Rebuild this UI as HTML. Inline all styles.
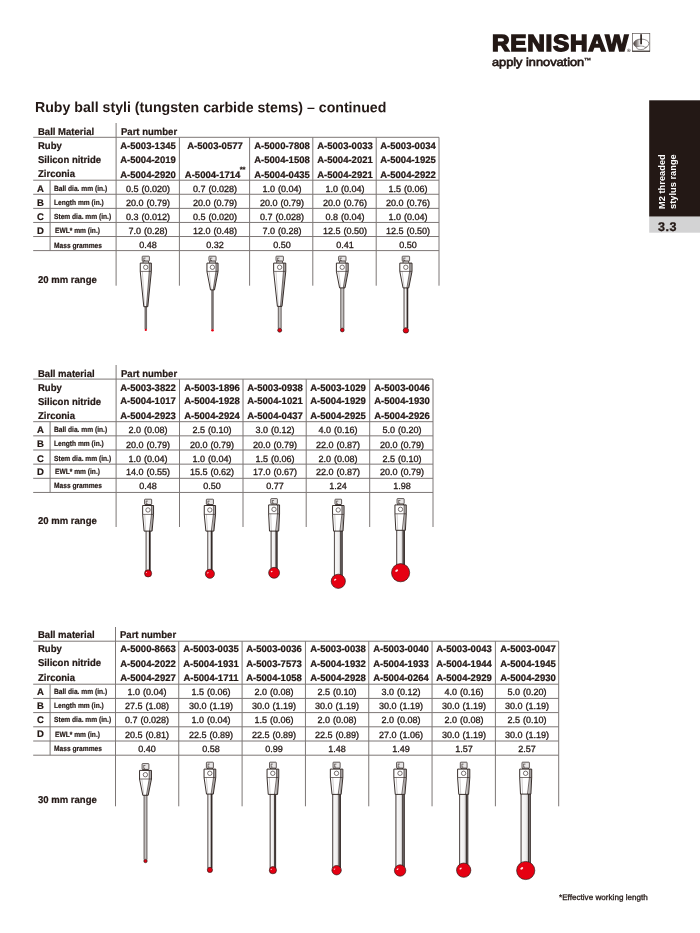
<!DOCTYPE html>
<html><head><meta charset="utf-8"><title>Ruby ball styli</title>
<style>
html,body{margin:0;padding:0;background:#fff;}
body{width:700px;height:933px;position:relative;overflow:hidden;font-family:"Liberation Sans",sans-serif;color:#231815;}
.t{position:absolute;white-space:nowrap;line-height:1;font-size:9.3px;}
.ss{font-size:7.6px;position:relative;top:-5.8px;letter-spacing:-0.2px;margin-left:-0.7px;}
.rot{transform-origin:0 0;transform:rotate(-90deg);font-weight:bold;color:#fff;font-size:9.3px;line-height:0;}
svg{position:absolute;left:0;top:0;}
#tx{position:absolute;left:0;top:0;width:700px;height:933px;will-change:transform;}
</style></head><body>
<svg width="700" height="933" viewBox="0 0 700 933">
<defs>
<linearGradient id="stemg" x1="0" x2="1" y1="0" y2="0">
<stop offset="0" stop-color="#cfcccc"/><stop offset="0.18" stop-color="#f8f7f7"/><stop offset="0.55" stop-color="#efeeee"/><stop offset="0.68" stop-color="#cbc8c8"/><stop offset="0.8" stop-color="#a9a5a5"/><stop offset="1" stop-color="#8d8989"/>
</linearGradient>
<linearGradient id="lg" x1="0" x2="1" y1="0" y2="0">
<stop offset="0" stop-color="#4a403d"/><stop offset="0.2" stop-color="#8a8381"/><stop offset="0.42" stop-color="#f4f3f3"/><stop offset="0.46" stop-color="#ffffff"/><stop offset="1" stop-color="#ffffff"/>
</linearGradient>
</defs>
<rect x="649.2" y="100.3" width="60" height="116.4" fill="#231815"/>
<rect x="649.2" y="216.7" width="60" height="16" fill="#d3d3d4"/>
<line x1="33.20" y1="137.30" x2="439.00" y2="137.30" stroke="#7d7776" stroke-width="1.0"/>
<line x1="33.20" y1="180.20" x2="439.00" y2="180.20" stroke="#7d7776" stroke-width="1.0"/>
<line x1="33.20" y1="194.28" x2="439.00" y2="194.28" stroke="#7d7776" stroke-width="1.0"/>
<line x1="33.20" y1="208.36" x2="439.00" y2="208.36" stroke="#7d7776" stroke-width="1.0"/>
<line x1="33.20" y1="222.44" x2="439.00" y2="222.44" stroke="#7d7776" stroke-width="1.0"/>
<line x1="33.20" y1="236.52" x2="439.00" y2="236.52" stroke="#7d7776" stroke-width="1.0"/>
<line x1="33.20" y1="250.60" x2="439.00" y2="250.60" stroke="#7d7776" stroke-width="1.0"/>
<line x1="50.10" y1="180.20" x2="50.10" y2="250.60" stroke="#7d7776" stroke-width="1.0"/>
<line x1="116.10" y1="123.00" x2="116.10" y2="285.70" stroke="#7d7776" stroke-width="1.0"/>
<line x1="179.40" y1="137.30" x2="179.40" y2="285.70" stroke="#7d7776" stroke-width="1.0"/>
<line x1="249.60" y1="137.30" x2="249.60" y2="285.70" stroke="#7d7776" stroke-width="1.0"/>
<line x1="312.80" y1="137.30" x2="312.80" y2="285.70" stroke="#7d7776" stroke-width="1.0"/>
<line x1="376.20" y1="137.30" x2="376.20" y2="285.70" stroke="#7d7776" stroke-width="1.0"/>
<line x1="439.00" y1="137.30" x2="439.00" y2="285.70" stroke="#7d7776" stroke-width="1.0"/>
<line x1="33.20" y1="379.10" x2="433.00" y2="379.10" stroke="#7d7776" stroke-width="1.0"/>
<line x1="33.20" y1="421.70" x2="433.00" y2="421.70" stroke="#7d7776" stroke-width="1.0"/>
<line x1="33.20" y1="435.85" x2="433.00" y2="435.85" stroke="#7d7776" stroke-width="1.0"/>
<line x1="33.20" y1="450.00" x2="433.00" y2="450.00" stroke="#7d7776" stroke-width="1.0"/>
<line x1="33.20" y1="464.15" x2="433.00" y2="464.15" stroke="#7d7776" stroke-width="1.0"/>
<line x1="33.20" y1="478.30" x2="433.00" y2="478.30" stroke="#7d7776" stroke-width="1.0"/>
<line x1="33.20" y1="492.45" x2="433.00" y2="492.45" stroke="#7d7776" stroke-width="1.0"/>
<line x1="50.10" y1="421.70" x2="50.10" y2="492.45" stroke="#7d7776" stroke-width="1.0"/>
<line x1="116.10" y1="365.00" x2="116.10" y2="527.00" stroke="#7d7776" stroke-width="1.0"/>
<line x1="179.50" y1="379.10" x2="179.50" y2="527.00" stroke="#7d7776" stroke-width="1.0"/>
<line x1="243.00" y1="379.10" x2="243.00" y2="527.00" stroke="#7d7776" stroke-width="1.0"/>
<line x1="306.20" y1="379.10" x2="306.20" y2="527.00" stroke="#7d7776" stroke-width="1.0"/>
<line x1="369.70" y1="379.10" x2="369.70" y2="527.00" stroke="#7d7776" stroke-width="1.0"/>
<line x1="433.00" y1="379.10" x2="433.00" y2="527.00" stroke="#7d7776" stroke-width="1.0"/>
<line x1="33.20" y1="641.20" x2="558.70" y2="641.20" stroke="#7d7776" stroke-width="1.0"/>
<line x1="33.20" y1="684.20" x2="558.70" y2="684.20" stroke="#7d7776" stroke-width="1.0"/>
<line x1="33.20" y1="698.40" x2="558.70" y2="698.40" stroke="#7d7776" stroke-width="1.0"/>
<line x1="33.20" y1="712.60" x2="558.70" y2="712.60" stroke="#7d7776" stroke-width="1.0"/>
<line x1="33.20" y1="726.80" x2="558.70" y2="726.80" stroke="#7d7776" stroke-width="1.0"/>
<line x1="33.20" y1="741.00" x2="558.70" y2="741.00" stroke="#7d7776" stroke-width="1.0"/>
<line x1="33.20" y1="755.20" x2="558.70" y2="755.20" stroke="#7d7776" stroke-width="1.0"/>
<line x1="50.10" y1="684.20" x2="50.10" y2="755.20" stroke="#7d7776" stroke-width="1.0"/>
<line x1="115.50" y1="627.00" x2="115.50" y2="806.30" stroke="#7d7776" stroke-width="1.0"/>
<line x1="178.75" y1="641.20" x2="178.75" y2="806.30" stroke="#7d7776" stroke-width="1.0"/>
<line x1="242.10" y1="641.20" x2="242.10" y2="806.30" stroke="#7d7776" stroke-width="1.0"/>
<line x1="305.45" y1="641.20" x2="305.45" y2="806.30" stroke="#7d7776" stroke-width="1.0"/>
<line x1="368.75" y1="641.20" x2="368.75" y2="806.30" stroke="#7d7776" stroke-width="1.0"/>
<line x1="432.05" y1="641.20" x2="432.05" y2="806.30" stroke="#7d7776" stroke-width="1.0"/>
<line x1="495.40" y1="641.20" x2="495.40" y2="806.30" stroke="#7d7776" stroke-width="1.0"/>
<line x1="558.70" y1="641.20" x2="558.70" y2="806.30" stroke="#7d7776" stroke-width="1.0"/>
<rect x="144.75" y="305.70" width="2.10" height="23.30" fill="#8f8a89"/>
<line x1="145.00" y1="306.70" x2="145.00" y2="329.00" stroke="#231815" stroke-width="0.4"/>
<line x1="146.60" y1="306.70" x2="146.60" y2="329.00" stroke="#231815" stroke-width="0.4"/>
<rect x="143.00" y="260.80" width="5.60" height="2.70" fill="#e9e7e7" stroke="#231815" stroke-width="0.6"/>
<rect x="142.20" y="256.20" width="7.20" height="4.80" rx="0.6" fill="#e9e7e7" stroke="#231815" stroke-width="0.7"/>
<path d="M143.80,258.10 h1.80 M143.80,257.80 v2.70 h1.44" fill="none" stroke="#231815" stroke-width="0.55"/>
<path d="M140.25,263.10 H151.35 V271.40 L147.80,306.70 H143.80 L140.25,271.40 Z" fill="#fff"/>
<path d="M149.24,263.10 H151.35 V271.40 L147.80,306.70 H146.50 L149.24,271.40 Z" fill="#d6d3d2"/>
<path d="M150.13,263.10 V271.40 L147.40,306.70" stroke="#6b6564" stroke-width="0.5" fill="none"/>
<path d="M149.24,263.10 V271.40 L146.50,306.70" stroke="#231815" stroke-width="0.6" fill="none"/>
<path d="M142.36,271.40 L144.60,306.70" stroke="#8a8483" stroke-width="0.4" fill="none"/>
<path d="M140.25,271.40 H151.35" stroke="#231815" stroke-width="0.6" fill="none"/>
<path d="M140.25,263.10 H151.35 V271.40 L147.80,306.70 H143.80 L140.25,271.40 Z" fill="none" stroke="#231815" stroke-width="0.9" stroke-linejoin="round"/>
<circle cx="145.70" cy="267.25" r="2.2" fill="#fff" stroke="#231815" stroke-width="0.6"/>
<circle cx="145.80" cy="329.90" r="1.15" fill="#e50012"/>
<rect x="211.50" y="288.90" width="2.00" height="40.40" fill="#8f8a89"/>
<line x1="211.75" y1="289.90" x2="211.75" y2="329.30" stroke="#231815" stroke-width="0.4"/>
<line x1="213.25" y1="289.90" x2="213.25" y2="329.30" stroke="#231815" stroke-width="0.4"/>
<rect x="209.75" y="260.80" width="5.50" height="2.70" fill="#e9e7e7" stroke="#231815" stroke-width="0.6"/>
<rect x="208.95" y="256.20" width="7.10" height="4.80" rx="0.6" fill="#e9e7e7" stroke="#231815" stroke-width="0.7"/>
<path d="M210.55,258.10 h1.78 M210.55,257.80 v2.70 h1.42" fill="none" stroke="#231815" stroke-width="0.55"/>
<path d="M206.95,263.10 H218.05 V271.40 L214.50,289.90 H210.50 L206.95,271.40 Z" fill="#fff"/>
<path d="M215.94,263.10 H218.05 V271.40 L214.50,289.90 H213.20 L215.94,271.40 Z" fill="#d6d3d2"/>
<path d="M216.83,263.10 V271.40 L214.10,289.90" stroke="#6b6564" stroke-width="0.5" fill="none"/>
<path d="M215.94,263.10 V271.40 L213.20,289.90" stroke="#231815" stroke-width="0.6" fill="none"/>
<path d="M209.06,271.40 L211.30,289.90" stroke="#8a8483" stroke-width="0.4" fill="none"/>
<path d="M206.95,271.40 H218.05" stroke="#231815" stroke-width="0.6" fill="none"/>
<path d="M206.95,263.10 H218.05 V271.40 L214.50,289.90 H210.50 L206.95,271.40 Z" fill="none" stroke="#231815" stroke-width="0.9" stroke-linejoin="round"/>
<circle cx="212.40" cy="267.25" r="2.2" fill="#fff" stroke="#231815" stroke-width="0.6"/>
<circle cx="212.50" cy="330.30" r="1.30" fill="#e50012"/>
<rect x="278.00" y="305.40" width="3.40" height="23.10" fill="#c4c1c0"/>
<line x1="278.25" y1="306.40" x2="278.25" y2="328.50" stroke="#231815" stroke-width="0.6"/>
<line x1="281.15" y1="306.40" x2="281.15" y2="328.50" stroke="#231815" stroke-width="0.6"/>
<rect x="276.80" y="260.80" width="5.80" height="2.70" fill="#e9e7e7" stroke="#231815" stroke-width="0.6"/>
<rect x="276.00" y="256.20" width="7.40" height="4.80" rx="0.6" fill="#e9e7e7" stroke="#231815" stroke-width="0.7"/>
<path d="M277.60,258.10 h1.85 M277.60,257.80 v2.70 h1.48" fill="none" stroke="#231815" stroke-width="0.55"/>
<path d="M273.65,263.10 H285.75 V271.40 L282.00,306.40 H277.40 L273.65,271.40 Z" fill="#fff"/>
<path d="M283.45,263.10 H285.75 V271.40 L282.00,306.40 H280.50 L283.45,271.40 Z" fill="#d6d3d2"/>
<path d="M284.42,263.10 V271.40 L281.54,306.40" stroke="#6b6564" stroke-width="0.5" fill="none"/>
<path d="M283.45,263.10 V271.40 L280.50,306.40" stroke="#231815" stroke-width="0.6" fill="none"/>
<path d="M275.95,271.40 L278.32,306.40" stroke="#8a8483" stroke-width="0.4" fill="none"/>
<path d="M273.65,271.40 H285.75" stroke="#231815" stroke-width="0.6" fill="none"/>
<path d="M273.65,263.10 H285.75 V271.40 L282.00,306.40 H277.40 L273.65,271.40 Z" fill="none" stroke="#231815" stroke-width="0.9" stroke-linejoin="round"/>
<circle cx="279.60" cy="267.25" r="2.2" fill="#fff" stroke="#231815" stroke-width="0.6"/>
<circle cx="279.70" cy="330.20" r="2.00" fill="#e50012" stroke="#231815" stroke-width="0.65"/>
<rect x="340.50" y="286.90" width="3.60" height="41.60" fill="#c4c1c0"/>
<line x1="340.75" y1="287.90" x2="340.75" y2="328.50" stroke="#231815" stroke-width="0.6"/>
<line x1="343.85" y1="287.90" x2="343.85" y2="328.50" stroke="#231815" stroke-width="0.6"/>
<rect x="339.40" y="260.80" width="5.80" height="2.70" fill="#e9e7e7" stroke="#231815" stroke-width="0.6"/>
<rect x="338.60" y="256.20" width="7.40" height="4.80" rx="0.6" fill="#e9e7e7" stroke="#231815" stroke-width="0.7"/>
<path d="M340.20,258.10 h1.85 M340.20,257.80 v2.70 h1.48" fill="none" stroke="#231815" stroke-width="0.55"/>
<path d="M336.40,263.10 H348.20 V271.40 L345.00,287.90 H339.60 L336.40,271.40 Z" fill="#fff"/>
<path d="M345.96,263.10 H348.20 V271.40 L345.00,287.90 H343.25 L345.96,271.40 Z" fill="#d6d3d2"/>
<path d="M346.90,263.10 V271.40 L344.46,287.90" stroke="#6b6564" stroke-width="0.5" fill="none"/>
<path d="M345.96,263.10 V271.40 L343.25,287.90" stroke="#231815" stroke-width="0.6" fill="none"/>
<path d="M338.64,271.40 L340.68,287.90" stroke="#8a8483" stroke-width="0.4" fill="none"/>
<path d="M336.40,271.40 H348.20" stroke="#231815" stroke-width="0.6" fill="none"/>
<path d="M336.40,263.10 H348.20 V271.40 L345.00,287.90 H339.60 L336.40,271.40 Z" fill="none" stroke="#231815" stroke-width="0.9" stroke-linejoin="round"/>
<circle cx="342.20" cy="267.25" r="2.2" fill="#fff" stroke="#231815" stroke-width="0.6"/>
<circle cx="342.30" cy="330.00" r="1.90" fill="#e50012" stroke="#231815" stroke-width="0.65"/>
<rect x="403.75" y="286.90" width="4.30" height="41.10" fill="url(#stemg)"/>
<rect x="407.19" y="287.90" width="0.86" height="40.10" fill="#8d8989"/>
<line x1="407.19" y1="287.90" x2="407.19" y2="328.00" stroke="#231815" stroke-width="0.9"/>
<line x1="404.05" y1="287.90" x2="404.05" y2="328.00" stroke="#231815" stroke-width="0.75"/>
<line x1="407.75" y1="287.90" x2="407.75" y2="328.00" stroke="#231815" stroke-width="0.75"/>
<rect x="403.00" y="260.80" width="5.80" height="2.70" fill="#e9e7e7" stroke="#231815" stroke-width="0.6"/>
<rect x="402.20" y="256.20" width="7.40" height="4.80" rx="0.6" fill="#e9e7e7" stroke="#231815" stroke-width="0.7"/>
<path d="M403.80,258.10 h1.85 M403.80,257.80 v2.70 h1.48" fill="none" stroke="#231815" stroke-width="0.55"/>
<path d="M399.80,263.10 H412.00 V271.40 L408.75,287.90 H403.05 L399.80,271.40 Z" fill="#fff"/>
<path d="M409.68,263.10 H412.00 V271.40 L408.75,287.90 H406.90 L409.68,271.40 Z" fill="#d6d3d2"/>
<path d="M410.66,263.10 V271.40 L408.18,287.90" stroke="#6b6564" stroke-width="0.5" fill="none"/>
<path d="M409.68,263.10 V271.40 L406.90,287.90" stroke="#231815" stroke-width="0.6" fill="none"/>
<path d="M402.12,271.40 L404.19,287.90" stroke="#8a8483" stroke-width="0.4" fill="none"/>
<path d="M399.80,271.40 H412.00" stroke="#231815" stroke-width="0.6" fill="none"/>
<path d="M399.80,263.10 H412.00 V271.40 L408.75,287.90 H403.05 L399.80,271.40 Z" fill="none" stroke="#231815" stroke-width="0.9" stroke-linejoin="round"/>
<circle cx="405.80" cy="267.25" r="2.2" fill="#fff" stroke="#231815" stroke-width="0.6"/>
<circle cx="405.90" cy="330.40" r="2.70" fill="#e50012" stroke="#231815" stroke-width="0.65"/>
<rect x="145.80" y="530.10" width="4.60" height="40.90" fill="url(#stemg)"/>
<rect x="149.48" y="531.10" width="0.92" height="39.90" fill="#8d8989"/>
<line x1="149.48" y1="531.10" x2="149.48" y2="571.00" stroke="#231815" stroke-width="0.9"/>
<line x1="146.10" y1="531.10" x2="146.10" y2="571.00" stroke="#231815" stroke-width="0.75"/>
<line x1="150.10" y1="531.10" x2="150.10" y2="571.00" stroke="#231815" stroke-width="0.75"/>
<rect x="145.35" y="504.30" width="5.50" height="1.60" fill="#e9e7e7" stroke="#231815" stroke-width="0.6"/>
<rect x="144.55" y="499.20" width="7.10" height="5.30" rx="0.6" fill="#e9e7e7" stroke="#231815" stroke-width="0.7"/>
<path d="M146.15,501.10 h1.78 M146.15,500.80 v2.95 h1.42" fill="none" stroke="#231815" stroke-width="0.55"/>
<path d="M142.65,505.50 H153.55 V514.40 L152.10,531.10 H144.10 L142.65,514.40 Z" fill="#fff"/>
<path d="M151.48,505.50 H153.55 V514.40 L152.10,531.10 H149.50 L151.48,514.40 Z" fill="#d6d3d2"/>
<path d="M152.35,505.50 V514.40 L151.30,531.10" stroke="#6b6564" stroke-width="0.5" fill="none"/>
<path d="M151.48,505.50 V514.40 L149.50,531.10" stroke="#231815" stroke-width="0.6" fill="none"/>
<path d="M144.72,514.40 L145.70,531.10" stroke="#8a8483" stroke-width="0.4" fill="none"/>
<path d="M142.65,514.40 H153.55" stroke="#231815" stroke-width="0.6" fill="none"/>
<path d="M142.65,505.50 H153.55 V514.40 L152.10,531.10 H144.10 L142.65,514.40 Z" fill="none" stroke="#231815" stroke-width="0.9" stroke-linejoin="round"/>
<circle cx="148.00" cy="509.95" r="2.2" fill="#fff" stroke="#231815" stroke-width="0.6"/>
<circle cx="148.10" cy="573.40" r="3.55" fill="#e50012" stroke="#231815" stroke-width="0.65"/>
<ellipse cx="146.48" cy="572.55" rx="0.65" ry="0.42" fill="#fff" opacity="0.9" transform="rotate(-35 146.48 572.55)"/>
<rect x="207.50" y="530.10" width="4.80" height="40.90" fill="url(#stemg)"/>
<rect x="211.34" y="531.10" width="0.96" height="39.90" fill="#8d8989"/>
<line x1="211.34" y1="531.10" x2="211.34" y2="571.00" stroke="#231815" stroke-width="0.9"/>
<line x1="207.80" y1="531.10" x2="207.80" y2="571.00" stroke="#231815" stroke-width="0.75"/>
<line x1="212.00" y1="531.10" x2="212.00" y2="571.00" stroke="#231815" stroke-width="0.75"/>
<rect x="207.15" y="504.30" width="5.50" height="1.60" fill="#e9e7e7" stroke="#231815" stroke-width="0.6"/>
<rect x="206.35" y="499.20" width="7.10" height="5.30" rx="0.6" fill="#e9e7e7" stroke="#231815" stroke-width="0.7"/>
<path d="M207.95,501.10 h1.78 M207.95,500.80 v2.95 h1.42" fill="none" stroke="#231815" stroke-width="0.55"/>
<path d="M204.25,505.50 H215.55 V514.40 L213.90,531.10 H205.90 L204.25,514.40 Z" fill="#fff"/>
<path d="M213.40,505.50 H215.55 V514.40 L213.90,531.10 H211.30 L213.40,514.40 Z" fill="#d6d3d2"/>
<path d="M214.31,505.50 V514.40 L213.10,531.10" stroke="#6b6564" stroke-width="0.5" fill="none"/>
<path d="M213.40,505.50 V514.40 L211.30,531.10" stroke="#231815" stroke-width="0.6" fill="none"/>
<path d="M206.40,514.40 L207.50,531.10" stroke="#8a8483" stroke-width="0.4" fill="none"/>
<path d="M204.25,514.40 H215.55" stroke="#231815" stroke-width="0.6" fill="none"/>
<path d="M204.25,505.50 H215.55 V514.40 L213.90,531.10 H205.90 L204.25,514.40 Z" fill="none" stroke="#231815" stroke-width="0.9" stroke-linejoin="round"/>
<circle cx="209.80" cy="509.95" r="2.2" fill="#fff" stroke="#231815" stroke-width="0.6"/>
<circle cx="209.90" cy="573.80" r="4.55" fill="#e50012" stroke="#231815" stroke-width="0.65"/>
<ellipse cx="207.86" cy="572.73" rx="0.82" ry="0.53" fill="#fff" opacity="0.9" transform="rotate(-35 207.86 572.73)"/>
<rect x="270.80" y="530.10" width="6.60" height="39.90" fill="url(#stemg)"/>
<rect x="276.08" y="531.10" width="1.32" height="38.90" fill="#8d8989"/>
<line x1="276.08" y1="531.10" x2="276.08" y2="570.00" stroke="#231815" stroke-width="0.9"/>
<line x1="271.10" y1="531.10" x2="271.10" y2="570.00" stroke="#231815" stroke-width="0.75"/>
<line x1="277.10" y1="531.10" x2="277.10" y2="570.00" stroke="#231815" stroke-width="0.75"/>
<rect x="271.60" y="503.70" width="5.00" height="1.60" fill="#e9e7e7" stroke="#231815" stroke-width="0.6"/>
<rect x="270.80" y="498.60" width="6.60" height="5.30" rx="0.6" fill="#e9e7e7" stroke="#231815" stroke-width="0.7"/>
<path d="M272.40,500.50 h1.65 M272.40,500.20 v2.95 h1.32" fill="none" stroke="#231815" stroke-width="0.55"/>
<path d="M268.65,504.90 H279.55 V513.80 L278.70,531.10 H269.50 L268.65,513.80 Z" fill="#fff"/>
<path d="M277.48,504.90 H279.55 V513.80 L278.70,531.10 H275.71 L277.48,513.80 Z" fill="#d6d3d2"/>
<path d="M278.35,504.90 V513.80 L277.78,531.10" stroke="#6b6564" stroke-width="0.5" fill="none"/>
<path d="M277.48,504.90 V513.80 L275.71,531.10" stroke="#231815" stroke-width="0.6" fill="none"/>
<path d="M270.72,513.80 L271.34,531.10" stroke="#8a8483" stroke-width="0.4" fill="none"/>
<path d="M268.65,513.80 H279.55" stroke="#231815" stroke-width="0.6" fill="none"/>
<path d="M268.65,504.90 H279.55 V513.80 L278.70,531.10 H269.50 L268.65,513.80 Z" fill="none" stroke="#231815" stroke-width="0.9" stroke-linejoin="round"/>
<circle cx="274.00" cy="509.35" r="2.2" fill="#fff" stroke="#231815" stroke-width="0.6"/>
<circle cx="274.10" cy="572.80" r="5.45" fill="#e50012" stroke="#231815" stroke-width="0.65"/>
<ellipse cx="271.69" cy="571.53" rx="0.98" ry="0.63" fill="#fff" opacity="0.9" transform="rotate(-35 271.69 571.53)"/>
<rect x="334.10" y="530.10" width="8.40" height="47.90" fill="url(#stemg)"/>
<rect x="340.82" y="531.10" width="1.68" height="46.90" fill="#8d8989"/>
<line x1="340.82" y1="531.10" x2="340.82" y2="578.00" stroke="#231815" stroke-width="0.9"/>
<line x1="334.40" y1="531.10" x2="334.40" y2="578.00" stroke="#231815" stroke-width="0.75"/>
<line x1="342.20" y1="531.10" x2="342.20" y2="578.00" stroke="#231815" stroke-width="0.75"/>
<rect x="335.80" y="504.30" width="5.00" height="1.60" fill="#e9e7e7" stroke="#231815" stroke-width="0.6"/>
<rect x="335.00" y="499.20" width="6.60" height="5.30" rx="0.6" fill="#e9e7e7" stroke="#231815" stroke-width="0.7"/>
<path d="M336.60,501.10 h1.65 M336.60,500.80 v2.95 h1.32" fill="none" stroke="#231815" stroke-width="0.55"/>
<path d="M332.55,505.50 H344.05 V514.40 L343.00,531.10 H333.60 L332.55,514.40 Z" fill="#fff"/>
<path d="M341.87,505.50 H344.05 V514.40 L343.00,531.10 H339.94 L341.87,514.40 Z" fill="#d6d3d2"/>
<path d="M342.79,505.50 V514.40 L342.06,531.10" stroke="#6b6564" stroke-width="0.5" fill="none"/>
<path d="M341.87,505.50 V514.40 L339.94,531.10" stroke="#231815" stroke-width="0.6" fill="none"/>
<path d="M334.74,514.40 L335.48,531.10" stroke="#8a8483" stroke-width="0.4" fill="none"/>
<path d="M332.55,514.40 H344.05" stroke="#231815" stroke-width="0.6" fill="none"/>
<path d="M332.55,505.50 H344.05 V514.40 L343.00,531.10 H333.60 L332.55,514.40 Z" fill="none" stroke="#231815" stroke-width="0.9" stroke-linejoin="round"/>
<circle cx="338.20" cy="509.95" r="2.2" fill="#fff" stroke="#231815" stroke-width="0.6"/>
<circle cx="338.30" cy="581.30" r="7.10" fill="#e50012" stroke="#231815" stroke-width="0.65"/>
<ellipse cx="335.19" cy="579.67" rx="1.26" ry="0.81" fill="#fff" opacity="0.9" transform="rotate(-35 335.19 579.67)"/>
<rect x="396.40" y="529.30" width="8.40" height="38.70" fill="url(#stemg)"/>
<rect x="403.12" y="530.30" width="1.68" height="37.70" fill="#8d8989"/>
<line x1="403.12" y1="530.30" x2="403.12" y2="568.00" stroke="#231815" stroke-width="0.9"/>
<line x1="396.70" y1="530.30" x2="396.70" y2="568.00" stroke="#231815" stroke-width="0.75"/>
<line x1="404.50" y1="530.30" x2="404.50" y2="568.00" stroke="#231815" stroke-width="0.75"/>
<rect x="397.85" y="503.70" width="5.50" height="1.60" fill="#e9e7e7" stroke="#231815" stroke-width="0.6"/>
<rect x="397.05" y="498.60" width="7.10" height="5.30" rx="0.6" fill="#e9e7e7" stroke="#231815" stroke-width="0.7"/>
<path d="M398.65,500.50 h1.78 M398.65,500.20 v2.95 h1.42" fill="none" stroke="#231815" stroke-width="0.55"/>
<path d="M394.95,504.90 H406.25 V513.80 L405.40,530.30 H395.80 L394.95,513.80 Z" fill="#fff"/>
<path d="M404.10,504.90 H406.25 V513.80 L405.40,530.30 H402.28 L404.10,513.80 Z" fill="#d6d3d2"/>
<path d="M405.01,504.90 V513.80 L404.44,530.30" stroke="#6b6564" stroke-width="0.5" fill="none"/>
<path d="M404.10,504.90 V513.80 L402.28,530.30" stroke="#231815" stroke-width="0.6" fill="none"/>
<path d="M397.10,513.80 L397.72,530.30" stroke="#8a8483" stroke-width="0.4" fill="none"/>
<path d="M394.95,513.80 H406.25" stroke="#231815" stroke-width="0.6" fill="none"/>
<path d="M394.95,504.90 H406.25 V513.80 L405.40,530.30 H395.80 L394.95,513.80 Z" fill="none" stroke="#231815" stroke-width="0.9" stroke-linejoin="round"/>
<circle cx="400.50" cy="509.35" r="2.2" fill="#fff" stroke="#231815" stroke-width="0.6"/>
<circle cx="400.60" cy="572.70" r="9.10" fill="#e50012" stroke="#231815" stroke-width="0.65"/>
<ellipse cx="396.65" cy="570.63" rx="1.60" ry="1.03" fill="#fff" opacity="0.9" transform="rotate(-35 396.65 570.63)"/>
<rect x="143.80" y="794.30" width="3.40" height="65.20" fill="#c4c1c0"/>
<line x1="144.05" y1="795.30" x2="144.05" y2="859.50" stroke="#231815" stroke-width="0.6"/>
<line x1="146.95" y1="795.30" x2="146.95" y2="859.50" stroke="#231815" stroke-width="0.6"/>
<rect x="142.90" y="769.20" width="5.20" height="1.60" fill="#e9e7e7" stroke="#231815" stroke-width="0.6"/>
<rect x="142.10" y="763.60" width="6.80" height="5.80" rx="0.6" fill="#e9e7e7" stroke="#231815" stroke-width="0.7"/>
<path d="M143.70,765.50 h1.70 M143.70,765.20 v3.20 h1.36" fill="none" stroke="#231815" stroke-width="0.55"/>
<path d="M139.55,770.40 H151.45 V779.00 L148.20,795.30 H142.80 L139.55,779.00 Z" fill="#fff"/>
<path d="M149.19,770.40 H151.45 V779.00 L148.20,795.30 H146.44 L149.19,779.00 Z" fill="#d6d3d2"/>
<path d="M150.14,770.40 V779.00 L147.66,795.30" stroke="#6b6564" stroke-width="0.5" fill="none"/>
<path d="M149.19,770.40 V779.00 L146.44,795.30" stroke="#231815" stroke-width="0.6" fill="none"/>
<path d="M141.81,779.00 L143.88,795.30" stroke="#8a8483" stroke-width="0.4" fill="none"/>
<path d="M139.55,779.00 H151.45" stroke="#231815" stroke-width="0.6" fill="none"/>
<path d="M139.55,770.40 H151.45 V779.00 L148.20,795.30 H142.80 L139.55,779.00 Z" fill="none" stroke="#231815" stroke-width="0.9" stroke-linejoin="round"/>
<circle cx="145.40" cy="774.70" r="2.2" fill="#fff" stroke="#231815" stroke-width="0.6"/>
<circle cx="145.50" cy="861.00" r="1.70" fill="#e50012" stroke="#231815" stroke-width="0.65"/>
<rect x="207.60" y="793.10" width="4.60" height="74.90" fill="url(#stemg)"/>
<rect x="211.28" y="794.10" width="0.92" height="73.90" fill="#8d8989"/>
<line x1="211.28" y1="794.10" x2="211.28" y2="868.00" stroke="#231815" stroke-width="0.9"/>
<line x1="207.90" y1="794.10" x2="207.90" y2="868.00" stroke="#231815" stroke-width="0.75"/>
<line x1="211.90" y1="794.10" x2="211.90" y2="868.00" stroke="#231815" stroke-width="0.75"/>
<rect x="207.20" y="767.90" width="5.40" height="1.60" fill="#e9e7e7" stroke="#231815" stroke-width="0.6"/>
<rect x="206.40" y="762.20" width="7.00" height="5.90" rx="0.6" fill="#e9e7e7" stroke="#231815" stroke-width="0.7"/>
<path d="M208.00,764.10 h1.75 M208.00,763.80 v3.25 h1.40" fill="none" stroke="#231815" stroke-width="0.55"/>
<path d="M204.05,769.10 H215.75 V777.50 L213.30,794.10 H206.50 L204.05,777.50 Z" fill="#fff"/>
<path d="M213.53,769.10 H215.75 V777.50 L213.30,794.10 H211.09 L213.53,777.50 Z" fill="#d6d3d2"/>
<path d="M214.46,769.10 V777.50 L212.62,794.10" stroke="#6b6564" stroke-width="0.5" fill="none"/>
<path d="M213.53,769.10 V777.50 L211.09,794.10" stroke="#231815" stroke-width="0.6" fill="none"/>
<path d="M206.27,777.50 L207.86,794.10" stroke="#8a8483" stroke-width="0.4" fill="none"/>
<path d="M204.05,777.50 H215.75" stroke="#231815" stroke-width="0.6" fill="none"/>
<path d="M204.05,769.10 H215.75 V777.50 L213.30,794.10 H206.50 L204.05,777.50 Z" fill="none" stroke="#231815" stroke-width="0.9" stroke-linejoin="round"/>
<circle cx="209.80" cy="773.30" r="2.2" fill="#fff" stroke="#231815" stroke-width="0.6"/>
<circle cx="209.90" cy="869.90" r="2.60" fill="#e50012" stroke="#231815" stroke-width="0.65"/>
<rect x="269.85" y="793.40" width="6.10" height="74.60" fill="url(#stemg)"/>
<rect x="274.73" y="794.40" width="1.22" height="73.60" fill="#8d8989"/>
<line x1="274.73" y1="794.40" x2="274.73" y2="868.00" stroke="#231815" stroke-width="0.9"/>
<line x1="270.15" y1="794.40" x2="270.15" y2="868.00" stroke="#231815" stroke-width="0.75"/>
<line x1="275.65" y1="794.40" x2="275.65" y2="868.00" stroke="#231815" stroke-width="0.75"/>
<rect x="270.30" y="767.90" width="5.20" height="1.60" fill="#e9e7e7" stroke="#231815" stroke-width="0.6"/>
<rect x="269.50" y="762.20" width="6.80" height="5.90" rx="0.6" fill="#e9e7e7" stroke="#231815" stroke-width="0.7"/>
<path d="M271.10,764.10 h1.70 M271.10,763.80 v3.25 h1.36" fill="none" stroke="#231815" stroke-width="0.55"/>
<path d="M267.05,769.10 H278.75 V777.50 L277.55,794.40 H268.25 L267.05,777.50 Z" fill="#fff"/>
<path d="M276.53,769.10 H278.75 V777.50 L277.55,794.40 H274.53 L276.53,777.50 Z" fill="#d6d3d2"/>
<path d="M277.46,769.10 V777.50 L276.62,794.40" stroke="#6b6564" stroke-width="0.5" fill="none"/>
<path d="M276.53,769.10 V777.50 L274.53,794.40" stroke="#231815" stroke-width="0.6" fill="none"/>
<path d="M269.27,777.50 L270.11,794.40" stroke="#8a8483" stroke-width="0.4" fill="none"/>
<path d="M267.05,777.50 H278.75" stroke="#231815" stroke-width="0.6" fill="none"/>
<path d="M267.05,769.10 H278.75 V777.50 L277.55,794.40 H268.25 L267.05,777.50 Z" fill="none" stroke="#231815" stroke-width="0.9" stroke-linejoin="round"/>
<circle cx="272.80" cy="773.30" r="2.2" fill="#fff" stroke="#231815" stroke-width="0.6"/>
<circle cx="272.90" cy="870.20" r="3.60" fill="#e50012" stroke="#231815" stroke-width="0.65"/>
<ellipse cx="271.26" cy="869.34" rx="0.66" ry="0.43" fill="#fff" opacity="0.9" transform="rotate(-35 271.26 869.34)"/>
<rect x="332.40" y="793.40" width="8.40" height="74.60" fill="url(#stemg)"/>
<rect x="339.12" y="794.40" width="1.68" height="73.60" fill="#8d8989"/>
<line x1="339.12" y1="794.40" x2="339.12" y2="868.00" stroke="#231815" stroke-width="0.9"/>
<line x1="332.70" y1="794.40" x2="332.70" y2="868.00" stroke="#231815" stroke-width="0.75"/>
<line x1="340.50" y1="794.40" x2="340.50" y2="868.00" stroke="#231815" stroke-width="0.75"/>
<rect x="333.85" y="767.90" width="5.50" height="1.60" fill="#e9e7e7" stroke="#231815" stroke-width="0.6"/>
<rect x="333.05" y="762.20" width="7.10" height="5.90" rx="0.6" fill="#e9e7e7" stroke="#231815" stroke-width="0.7"/>
<path d="M334.65,764.10 h1.78 M334.65,763.80 v3.25 h1.42" fill="none" stroke="#231815" stroke-width="0.55"/>
<path d="M330.35,769.10 H342.85 V777.50 L341.15,794.40 H332.05 L330.35,777.50 Z" fill="#fff"/>
<path d="M340.48,769.10 H342.85 V777.50 L341.15,794.40 H338.19 L340.48,777.50 Z" fill="#d6d3d2"/>
<path d="M341.48,769.10 V777.50 L340.24,794.40" stroke="#6b6564" stroke-width="0.5" fill="none"/>
<path d="M340.48,769.10 V777.50 L338.19,794.40" stroke="#231815" stroke-width="0.6" fill="none"/>
<path d="M332.73,777.50 L333.87,794.40" stroke="#8a8483" stroke-width="0.4" fill="none"/>
<path d="M330.35,777.50 H342.85" stroke="#231815" stroke-width="0.6" fill="none"/>
<path d="M330.35,769.10 H342.85 V777.50 L341.15,794.40 H332.05 L330.35,777.50 Z" fill="none" stroke="#231815" stroke-width="0.9" stroke-linejoin="round"/>
<circle cx="336.50" cy="773.30" r="2.2" fill="#fff" stroke="#231815" stroke-width="0.6"/>
<circle cx="336.60" cy="870.20" r="4.70" fill="#e50012" stroke="#231815" stroke-width="0.65"/>
<ellipse cx="334.50" cy="869.10" rx="0.85" ry="0.55" fill="#fff" opacity="0.9" transform="rotate(-35 334.50 869.10)"/>
<rect x="395.60" y="793.40" width="9.00" height="73.60" fill="url(#stemg)"/>
<rect x="402.80" y="794.40" width="1.80" height="72.60" fill="#8d8989"/>
<line x1="402.80" y1="794.40" x2="402.80" y2="867.00" stroke="#231815" stroke-width="0.9"/>
<line x1="395.90" y1="794.40" x2="395.90" y2="867.00" stroke="#231815" stroke-width="0.75"/>
<line x1="404.30" y1="794.40" x2="404.30" y2="867.00" stroke="#231815" stroke-width="0.75"/>
<rect x="397.35" y="767.90" width="5.50" height="1.60" fill="#e9e7e7" stroke="#231815" stroke-width="0.6"/>
<rect x="396.55" y="762.20" width="7.10" height="5.90" rx="0.6" fill="#e9e7e7" stroke="#231815" stroke-width="0.7"/>
<path d="M398.15,764.10 h1.78 M398.15,763.80 v3.25 h1.42" fill="none" stroke="#231815" stroke-width="0.55"/>
<path d="M393.85,769.10 H406.35 V777.50 L404.95,794.40 H395.25 L393.85,777.50 Z" fill="#fff"/>
<path d="M403.98,769.10 H406.35 V777.50 L404.95,794.40 H401.80 L403.98,777.50 Z" fill="#d6d3d2"/>
<path d="M404.98,769.10 V777.50 L403.98,794.40" stroke="#6b6564" stroke-width="0.5" fill="none"/>
<path d="M403.98,769.10 V777.50 L401.80,794.40" stroke="#231815" stroke-width="0.6" fill="none"/>
<path d="M396.23,777.50 L397.19,794.40" stroke="#8a8483" stroke-width="0.4" fill="none"/>
<path d="M393.85,777.50 H406.35" stroke="#231815" stroke-width="0.6" fill="none"/>
<path d="M393.85,769.10 H406.35 V777.50 L404.95,794.40 H395.25 L393.85,777.50 Z" fill="none" stroke="#231815" stroke-width="0.9" stroke-linejoin="round"/>
<circle cx="400.00" cy="773.30" r="2.2" fill="#fff" stroke="#231815" stroke-width="0.6"/>
<circle cx="400.10" cy="870.50" r="5.70" fill="#e50012" stroke="#231815" stroke-width="0.65"/>
<ellipse cx="397.58" cy="869.18" rx="1.02" ry="0.66" fill="#fff" opacity="0.9" transform="rotate(-35 397.58 869.18)"/>
<rect x="459.30" y="793.40" width="8.80" height="72.60" fill="url(#stemg)"/>
<rect x="466.34" y="794.40" width="1.76" height="71.60" fill="#8d8989"/>
<line x1="466.34" y1="794.40" x2="466.34" y2="866.00" stroke="#231815" stroke-width="0.9"/>
<line x1="459.60" y1="794.40" x2="459.60" y2="866.00" stroke="#231815" stroke-width="0.75"/>
<line x1="467.80" y1="794.40" x2="467.80" y2="866.00" stroke="#231815" stroke-width="0.75"/>
<rect x="461.10" y="767.90" width="5.20" height="1.60" fill="#e9e7e7" stroke="#231815" stroke-width="0.6"/>
<rect x="460.30" y="762.20" width="6.80" height="5.90" rx="0.6" fill="#e9e7e7" stroke="#231815" stroke-width="0.7"/>
<path d="M461.90,764.10 h1.70 M461.90,763.80 v3.25 h1.36" fill="none" stroke="#231815" stroke-width="0.55"/>
<path d="M457.60,769.10 H469.80 V777.50 L468.60,794.40 H458.80 L457.60,777.50 Z" fill="#fff"/>
<path d="M467.48,769.10 H469.80 V777.50 L468.60,794.40 H465.41 L467.48,777.50 Z" fill="#d6d3d2"/>
<path d="M468.46,769.10 V777.50 L467.62,794.40" stroke="#6b6564" stroke-width="0.5" fill="none"/>
<path d="M467.48,769.10 V777.50 L465.41,794.40" stroke="#231815" stroke-width="0.6" fill="none"/>
<path d="M459.92,777.50 L460.76,794.40" stroke="#8a8483" stroke-width="0.4" fill="none"/>
<path d="M457.60,777.50 H469.80" stroke="#231815" stroke-width="0.6" fill="none"/>
<path d="M457.60,769.10 H469.80 V777.50 L468.60,794.40 H458.80 L457.60,777.50 Z" fill="none" stroke="#231815" stroke-width="0.9" stroke-linejoin="round"/>
<circle cx="463.60" cy="773.30" r="2.2" fill="#fff" stroke="#231815" stroke-width="0.6"/>
<circle cx="463.70" cy="870.20" r="7.15" fill="#e50012" stroke="#231815" stroke-width="0.65"/>
<ellipse cx="460.57" cy="868.56" rx="1.27" ry="0.82" fill="#fff" opacity="0.9" transform="rotate(-35 460.57 868.56)"/>
<rect x="520.75" y="793.10" width="9.90" height="70.90" fill="url(#stemg)"/>
<rect x="528.67" y="794.10" width="1.98" height="69.90" fill="#8d8989"/>
<line x1="528.67" y1="794.10" x2="528.67" y2="864.00" stroke="#231815" stroke-width="0.9"/>
<line x1="521.05" y1="794.10" x2="521.05" y2="864.00" stroke="#231815" stroke-width="0.75"/>
<line x1="530.35" y1="794.10" x2="530.35" y2="864.00" stroke="#231815" stroke-width="0.75"/>
<rect x="522.80" y="767.90" width="5.80" height="1.60" fill="#e9e7e7" stroke="#231815" stroke-width="0.6"/>
<rect x="522.00" y="762.20" width="7.40" height="5.90" rx="0.6" fill="#e9e7e7" stroke="#231815" stroke-width="0.7"/>
<path d="M523.60,764.10 h1.85 M523.60,763.80 v3.25 h1.48" fill="none" stroke="#231815" stroke-width="0.55"/>
<path d="M519.70,769.10 H531.70 V777.50 L530.90,794.10 H520.50 L519.70,777.50 Z" fill="#fff"/>
<path d="M529.42,769.10 H531.70 V777.50 L530.90,794.10 H527.52 L529.42,777.50 Z" fill="#d6d3d2"/>
<path d="M530.38,769.10 V777.50 L529.86,794.10" stroke="#6b6564" stroke-width="0.5" fill="none"/>
<path d="M529.42,769.10 V777.50 L527.52,794.10" stroke="#231815" stroke-width="0.6" fill="none"/>
<path d="M521.98,777.50 L522.58,794.10" stroke="#8a8483" stroke-width="0.4" fill="none"/>
<path d="M519.70,777.50 H531.70" stroke="#231815" stroke-width="0.6" fill="none"/>
<path d="M519.70,769.10 H531.70 V777.50 L530.90,794.10 H520.50 L519.70,777.50 Z" fill="none" stroke="#231815" stroke-width="0.9" stroke-linejoin="round"/>
<circle cx="525.60" cy="773.30" r="2.2" fill="#fff" stroke="#231815" stroke-width="0.6"/>
<circle cx="525.70" cy="870.50" r="9.10" fill="#e50012" stroke="#231815" stroke-width="0.65"/>
<ellipse cx="521.75" cy="868.43" rx="1.60" ry="1.03" fill="#fff" opacity="0.9" transform="rotate(-35 521.75 868.43)"/>
<g>
<rect x="632.4" y="33.6" width="17.4" height="17.6" fill="#fff" stroke="#5d5654" stroke-width="0.7"/>
<line x1="632.2" y1="51.2" x2="650" y2="51.2" stroke="#231815" stroke-width="0.9"/>
<ellipse cx="641.3" cy="43.6" rx="7.7" ry="4.5" fill="url(#lg)" stroke="#4a4240" stroke-width="0.6"/>
<ellipse cx="640.9" cy="47.8" rx="4.3" ry="1.8" fill="#fff" stroke="#4a4240" stroke-width="0.55"/>
<path d="M645.1,48.3 L647.4,46.6" fill="none" stroke="#4a4240" stroke-width="0.5"/>
<rect x="640.3" y="34.2" width="1.6" height="10.1" fill="#231815"/>
</g>
</svg>
<div id="tx"><div class="t" style="top:126.72px;font-size:9.9px;font-weight:bold;left:38.00px;transform:rotate(0.05deg) scaleX(0.965);transform-origin:0 0;-webkit-text-stroke:0.22px #231815;">Ball Material</div>
<div class="t" style="top:126.72px;font-size:9.9px;font-weight:bold;left:120.70px;transform:rotate(0.05deg) scaleX(0.965);transform-origin:0 0;-webkit-text-stroke:0.22px #231815;">Part number</div>
<div class="t" style="top:140.52px;font-size:9.9px;font-weight:bold;left:38.00px;transform:rotate(0.05deg) scaleX(0.965);transform-origin:0 0;-webkit-text-stroke:0.22px #231815;">Ruby</div>
<div class="t" style="top:154.52px;font-size:9.9px;font-weight:bold;left:38.00px;transform:rotate(0.05deg) scaleX(0.965);transform-origin:0 0;-webkit-text-stroke:0.22px #231815;">Silicon nitride</div>
<div class="t" style="top:168.52px;font-size:9.9px;font-weight:bold;left:38.00px;transform:rotate(0.05deg) scaleX(0.965);transform-origin:0 0;-webkit-text-stroke:0.22px #231815;">Zirconia</div>
<div class="t" style="top:140.84px;font-size:9.52px;font-weight:bold;left:48.25px;width:200px;text-align:center;transform:rotate(0.05deg);transform-origin:50% 0;-webkit-text-stroke:0.22px #231815;">A-5003-1345</div>
<div class="t" style="top:154.94px;font-size:9.52px;font-weight:bold;left:48.25px;width:200px;text-align:center;transform:rotate(0.05deg);transform-origin:50% 0;-webkit-text-stroke:0.22px #231815;">A-5004-2019</div>
<div class="t" style="top:169.84px;font-size:9.52px;font-weight:bold;left:48.25px;width:200px;text-align:center;transform:rotate(0.05deg);transform-origin:50% 0;-webkit-text-stroke:0.22px #231815;">A-5004-2920</div>
<div class="t" style="top:140.84px;font-size:9.52px;font-weight:bold;left:115.00px;width:200px;text-align:center;transform:rotate(0.05deg);transform-origin:50% 0;-webkit-text-stroke:0.22px #231815;">A-5003-0577</div>
<div class="t" style="top:169.84px;font-size:9.52px;font-weight:bold;left:115.00px;width:200px;text-align:center;transform:rotate(0.05deg);transform-origin:50% 0;-webkit-text-stroke:0.22px #231815;">A-5004-1714<span class='ss'>**</span></div>
<div class="t" style="top:140.84px;font-size:9.52px;font-weight:bold;left:181.70px;width:200px;text-align:center;transform:rotate(0.05deg);transform-origin:50% 0;-webkit-text-stroke:0.22px #231815;">A-5000-7808</div>
<div class="t" style="top:154.94px;font-size:9.52px;font-weight:bold;left:181.70px;width:200px;text-align:center;transform:rotate(0.05deg);transform-origin:50% 0;-webkit-text-stroke:0.22px #231815;">A-5004-1508</div>
<div class="t" style="top:169.84px;font-size:9.52px;font-weight:bold;left:181.70px;width:200px;text-align:center;transform:rotate(0.05deg);transform-origin:50% 0;-webkit-text-stroke:0.22px #231815;">A-5004-0435</div>
<div class="t" style="top:140.84px;font-size:9.52px;font-weight:bold;left:245.00px;width:200px;text-align:center;transform:rotate(0.05deg);transform-origin:50% 0;-webkit-text-stroke:0.22px #231815;">A-5003-0033</div>
<div class="t" style="top:154.94px;font-size:9.52px;font-weight:bold;left:245.00px;width:200px;text-align:center;transform:rotate(0.05deg);transform-origin:50% 0;-webkit-text-stroke:0.22px #231815;">A-5004-2021</div>
<div class="t" style="top:169.84px;font-size:9.52px;font-weight:bold;left:245.00px;width:200px;text-align:center;transform:rotate(0.05deg);transform-origin:50% 0;-webkit-text-stroke:0.22px #231815;">A-5004-2921</div>
<div class="t" style="top:140.84px;font-size:9.52px;font-weight:bold;left:308.10px;width:200px;text-align:center;transform:rotate(0.05deg);transform-origin:50% 0;-webkit-text-stroke:0.22px #231815;">A-5003-0034</div>
<div class="t" style="top:154.94px;font-size:9.52px;font-weight:bold;left:308.10px;width:200px;text-align:center;transform:rotate(0.05deg);transform-origin:50% 0;-webkit-text-stroke:0.22px #231815;">A-5004-1925</div>
<div class="t" style="top:169.84px;font-size:9.52px;font-weight:bold;left:308.10px;width:200px;text-align:center;transform:rotate(0.05deg);transform-origin:50% 0;-webkit-text-stroke:0.22px #231815;">A-5004-2922</div>
<div class="t" style="top:183.86px;font-size:9.5px;font-weight:bold;left:37.00px;transform:rotate(0.05deg);transform-origin:0 0;-webkit-text-stroke:0.22px #231815;">A</div>
<div class="t" style="top:184.85px;font-size:7.5px;font-weight:bold;left:53.80px;transform:rotate(0.05deg) scaleX(0.885);transform-origin:0 0;-webkit-text-stroke:0.2px #231815;">Ball dia. mm (in.)</div>
<div class="t" style="top:185.14px;font-size:9.05px;left:48.10px;width:200px;text-align:center;transform:rotate(0.05deg);transform-origin:50% 0;-webkit-text-stroke:0.3px #231815;word-spacing:0.4px;">0.5 (0.020)</div>
<div class="t" style="top:185.14px;font-size:9.05px;left:114.85px;width:200px;text-align:center;transform:rotate(0.05deg);transform-origin:50% 0;-webkit-text-stroke:0.3px #231815;word-spacing:0.4px;">0.7 (0.028)</div>
<div class="t" style="top:185.14px;font-size:9.05px;left:181.55px;width:200px;text-align:center;transform:rotate(0.05deg);transform-origin:50% 0;-webkit-text-stroke:0.3px #231815;word-spacing:0.4px;">1.0 (0.04)</div>
<div class="t" style="top:185.14px;font-size:9.05px;left:244.85px;width:200px;text-align:center;transform:rotate(0.05deg);transform-origin:50% 0;-webkit-text-stroke:0.3px #231815;word-spacing:0.4px;">1.0 (0.04)</div>
<div class="t" style="top:185.14px;font-size:9.05px;left:307.95px;width:200px;text-align:center;transform:rotate(0.05deg);transform-origin:50% 0;-webkit-text-stroke:0.3px #231815;word-spacing:0.4px;">1.5 (0.06)</div>
<div class="t" style="top:197.86px;font-size:9.5px;font-weight:bold;left:37.00px;transform:rotate(0.05deg);transform-origin:0 0;-webkit-text-stroke:0.22px #231815;">B</div>
<div class="t" style="top:198.85px;font-size:7.5px;font-weight:bold;left:53.80px;transform:rotate(0.05deg) scaleX(0.885);transform-origin:0 0;-webkit-text-stroke:0.2px #231815;">Length mm (in.)</div>
<div class="t" style="top:199.14px;font-size:9.05px;left:48.10px;width:200px;text-align:center;transform:rotate(0.05deg);transform-origin:50% 0;-webkit-text-stroke:0.3px #231815;word-spacing:0.4px;">20.0 (0.79)</div>
<div class="t" style="top:199.14px;font-size:9.05px;left:114.85px;width:200px;text-align:center;transform:rotate(0.05deg);transform-origin:50% 0;-webkit-text-stroke:0.3px #231815;word-spacing:0.4px;">20.0 (0.79)</div>
<div class="t" style="top:199.14px;font-size:9.05px;left:181.55px;width:200px;text-align:center;transform:rotate(0.05deg);transform-origin:50% 0;-webkit-text-stroke:0.3px #231815;word-spacing:0.4px;">20.0 (0.79)</div>
<div class="t" style="top:199.14px;font-size:9.05px;left:244.85px;width:200px;text-align:center;transform:rotate(0.05deg);transform-origin:50% 0;-webkit-text-stroke:0.3px #231815;word-spacing:0.4px;">20.0 (0.76)</div>
<div class="t" style="top:199.14px;font-size:9.05px;left:307.95px;width:200px;text-align:center;transform:rotate(0.05deg);transform-origin:50% 0;-webkit-text-stroke:0.3px #231815;word-spacing:0.4px;">20.0 (0.76)</div>
<div class="t" style="top:211.86px;font-size:9.5px;font-weight:bold;left:37.00px;transform:rotate(0.05deg);transform-origin:0 0;-webkit-text-stroke:0.22px #231815;">C</div>
<div class="t" style="top:212.55px;font-size:7.5px;font-weight:bold;left:53.80px;transform:rotate(0.05deg) scaleX(0.885);transform-origin:0 0;-webkit-text-stroke:0.2px #231815;">Stem dia. mm (in.)</div>
<div class="t" style="top:212.94px;font-size:9.05px;left:48.10px;width:200px;text-align:center;transform:rotate(0.05deg);transform-origin:50% 0;-webkit-text-stroke:0.3px #231815;word-spacing:0.4px;">0.3 (0.012)</div>
<div class="t" style="top:212.94px;font-size:9.05px;left:114.85px;width:200px;text-align:center;transform:rotate(0.05deg);transform-origin:50% 0;-webkit-text-stroke:0.3px #231815;word-spacing:0.4px;">0.5 (0.020)</div>
<div class="t" style="top:212.94px;font-size:9.05px;left:181.55px;width:200px;text-align:center;transform:rotate(0.05deg);transform-origin:50% 0;-webkit-text-stroke:0.3px #231815;word-spacing:0.4px;">0.7 (0.028)</div>
<div class="t" style="top:212.94px;font-size:9.05px;left:244.85px;width:200px;text-align:center;transform:rotate(0.05deg);transform-origin:50% 0;-webkit-text-stroke:0.3px #231815;word-spacing:0.4px;">0.8 (0.04)</div>
<div class="t" style="top:212.94px;font-size:9.05px;left:307.95px;width:200px;text-align:center;transform:rotate(0.05deg);transform-origin:50% 0;-webkit-text-stroke:0.3px #231815;word-spacing:0.4px;">1.0 (0.04)</div>
<div class="t" style="top:226.06px;font-size:9.5px;font-weight:bold;left:37.00px;transform:rotate(0.05deg);transform-origin:0 0;-webkit-text-stroke:0.22px #231815;">D</div>
<div class="t" style="top:226.95px;font-size:7.5px;font-weight:bold;left:54.60px;transform:rotate(0.05deg) scaleX(0.885);transform-origin:0 0;-webkit-text-stroke:0.2px #231815;">EWL* mm (in.)</div>
<div class="t" style="top:226.84px;font-size:9.05px;left:48.10px;width:200px;text-align:center;transform:rotate(0.05deg);transform-origin:50% 0;-webkit-text-stroke:0.3px #231815;word-spacing:0.4px;">7.0 (0.28)</div>
<div class="t" style="top:226.84px;font-size:9.05px;left:114.85px;width:200px;text-align:center;transform:rotate(0.05deg);transform-origin:50% 0;-webkit-text-stroke:0.3px #231815;word-spacing:0.4px;">12.0 (0.48)</div>
<div class="t" style="top:226.84px;font-size:9.05px;left:181.55px;width:200px;text-align:center;transform:rotate(0.05deg);transform-origin:50% 0;-webkit-text-stroke:0.3px #231815;word-spacing:0.4px;">7.0 (0.28)</div>
<div class="t" style="top:226.84px;font-size:9.05px;left:244.85px;width:200px;text-align:center;transform:rotate(0.05deg);transform-origin:50% 0;-webkit-text-stroke:0.3px #231815;word-spacing:0.4px;">12.5 (0.50)</div>
<div class="t" style="top:226.84px;font-size:9.05px;left:307.95px;width:200px;text-align:center;transform:rotate(0.05deg);transform-origin:50% 0;-webkit-text-stroke:0.3px #231815;word-spacing:0.4px;">12.5 (0.50)</div>
<div class="t" style="top:241.65px;font-size:7.5px;font-weight:bold;left:53.80px;transform:rotate(0.05deg) scaleX(0.885);transform-origin:0 0;-webkit-text-stroke:0.2px #231815;">Mass grammes</div>
<div class="t" style="top:240.94px;font-size:9.05px;left:48.10px;width:200px;text-align:center;transform:rotate(0.05deg);transform-origin:50% 0;-webkit-text-stroke:0.3px #231815;word-spacing:0.4px;">0.48</div>
<div class="t" style="top:240.94px;font-size:9.05px;left:114.85px;width:200px;text-align:center;transform:rotate(0.05deg);transform-origin:50% 0;-webkit-text-stroke:0.3px #231815;word-spacing:0.4px;">0.32</div>
<div class="t" style="top:240.94px;font-size:9.05px;left:181.55px;width:200px;text-align:center;transform:rotate(0.05deg);transform-origin:50% 0;-webkit-text-stroke:0.3px #231815;word-spacing:0.4px;">0.50</div>
<div class="t" style="top:240.94px;font-size:9.05px;left:244.85px;width:200px;text-align:center;transform:rotate(0.05deg);transform-origin:50% 0;-webkit-text-stroke:0.3px #231815;word-spacing:0.4px;">0.41</div>
<div class="t" style="top:240.94px;font-size:9.05px;left:307.95px;width:200px;text-align:center;transform:rotate(0.05deg);transform-origin:50% 0;-webkit-text-stroke:0.3px #231815;word-spacing:0.4px;">0.50</div>
<div class="t" style="top:274.92px;font-size:9.9px;font-weight:bold;left:37.60px;transform:rotate(0.05deg) scaleX(0.965);transform-origin:0 0;-webkit-text-stroke:0.22px #231815;">20 mm range</div>
<div class="t" style="top:368.52px;font-size:9.9px;font-weight:bold;left:38.00px;transform:rotate(0.05deg) scaleX(0.965);transform-origin:0 0;-webkit-text-stroke:0.22px #231815;">Ball material</div>
<div class="t" style="top:368.52px;font-size:9.9px;font-weight:bold;left:120.70px;transform:rotate(0.05deg) scaleX(0.965);transform-origin:0 0;-webkit-text-stroke:0.22px #231815;">Part number</div>
<div class="t" style="top:383.32px;font-size:9.9px;font-weight:bold;left:38.00px;transform:rotate(0.05deg) scaleX(0.965);transform-origin:0 0;-webkit-text-stroke:0.22px #231815;">Ruby</div>
<div class="t" style="top:397.32px;font-size:9.9px;font-weight:bold;left:38.00px;transform:rotate(0.05deg) scaleX(0.965);transform-origin:0 0;-webkit-text-stroke:0.22px #231815;">Silicon nitride</div>
<div class="t" style="top:411.32px;font-size:9.9px;font-weight:bold;left:38.00px;transform:rotate(0.05deg) scaleX(0.965);transform-origin:0 0;-webkit-text-stroke:0.22px #231815;">Zirconia</div>
<div class="t" style="top:383.04px;font-size:9.52px;font-weight:bold;left:48.30px;width:200px;text-align:center;transform:rotate(0.05deg);transform-origin:50% 0;-webkit-text-stroke:0.22px #231815;">A-5003-3822</div>
<div class="t" style="top:396.44px;font-size:9.52px;font-weight:bold;left:48.30px;width:200px;text-align:center;transform:rotate(0.05deg);transform-origin:50% 0;-webkit-text-stroke:0.22px #231815;">A-5004-1017</div>
<div class="t" style="top:410.94px;font-size:9.52px;font-weight:bold;left:48.30px;width:200px;text-align:center;transform:rotate(0.05deg);transform-origin:50% 0;-webkit-text-stroke:0.22px #231815;">A-5004-2923</div>
<div class="t" style="top:383.04px;font-size:9.52px;font-weight:bold;left:111.75px;width:200px;text-align:center;transform:rotate(0.05deg);transform-origin:50% 0;-webkit-text-stroke:0.22px #231815;">A-5003-1896</div>
<div class="t" style="top:396.44px;font-size:9.52px;font-weight:bold;left:111.75px;width:200px;text-align:center;transform:rotate(0.05deg);transform-origin:50% 0;-webkit-text-stroke:0.22px #231815;">A-5004-1928</div>
<div class="t" style="top:410.94px;font-size:9.52px;font-weight:bold;left:111.75px;width:200px;text-align:center;transform:rotate(0.05deg);transform-origin:50% 0;-webkit-text-stroke:0.22px #231815;">A-5004-2924</div>
<div class="t" style="top:383.04px;font-size:9.52px;font-weight:bold;left:175.10px;width:200px;text-align:center;transform:rotate(0.05deg);transform-origin:50% 0;-webkit-text-stroke:0.22px #231815;">A-5003-0938</div>
<div class="t" style="top:396.44px;font-size:9.52px;font-weight:bold;left:175.10px;width:200px;text-align:center;transform:rotate(0.05deg);transform-origin:50% 0;-webkit-text-stroke:0.22px #231815;">A-5004-1021</div>
<div class="t" style="top:410.94px;font-size:9.52px;font-weight:bold;left:175.10px;width:200px;text-align:center;transform:rotate(0.05deg);transform-origin:50% 0;-webkit-text-stroke:0.22px #231815;">A-5004-0437</div>
<div class="t" style="top:383.04px;font-size:9.52px;font-weight:bold;left:238.45px;width:200px;text-align:center;transform:rotate(0.05deg);transform-origin:50% 0;-webkit-text-stroke:0.22px #231815;">A-5003-1029</div>
<div class="t" style="top:396.44px;font-size:9.52px;font-weight:bold;left:238.45px;width:200px;text-align:center;transform:rotate(0.05deg);transform-origin:50% 0;-webkit-text-stroke:0.22px #231815;">A-5004-1929</div>
<div class="t" style="top:410.94px;font-size:9.52px;font-weight:bold;left:238.45px;width:200px;text-align:center;transform:rotate(0.05deg);transform-origin:50% 0;-webkit-text-stroke:0.22px #231815;">A-5004-2925</div>
<div class="t" style="top:383.04px;font-size:9.52px;font-weight:bold;left:301.85px;width:200px;text-align:center;transform:rotate(0.05deg);transform-origin:50% 0;-webkit-text-stroke:0.22px #231815;">A-5003-0046</div>
<div class="t" style="top:396.44px;font-size:9.52px;font-weight:bold;left:301.85px;width:200px;text-align:center;transform:rotate(0.05deg);transform-origin:50% 0;-webkit-text-stroke:0.22px #231815;">A-5004-1930</div>
<div class="t" style="top:410.94px;font-size:9.52px;font-weight:bold;left:301.85px;width:200px;text-align:center;transform:rotate(0.05deg);transform-origin:50% 0;-webkit-text-stroke:0.22px #231815;">A-5004-2926</div>
<div class="t" style="top:424.76px;font-size:9.5px;font-weight:bold;left:37.00px;transform:rotate(0.05deg);transform-origin:0 0;-webkit-text-stroke:0.22px #231815;">A</div>
<div class="t" style="top:425.75px;font-size:7.5px;font-weight:bold;left:53.80px;transform:rotate(0.05deg) scaleX(0.885);transform-origin:0 0;-webkit-text-stroke:0.2px #231815;">Ball dia. mm (in.)</div>
<div class="t" style="top:426.04px;font-size:9.05px;left:48.15px;width:200px;text-align:center;transform:rotate(0.05deg);transform-origin:50% 0;-webkit-text-stroke:0.3px #231815;word-spacing:0.4px;">2.0 (0.08)</div>
<div class="t" style="top:426.04px;font-size:9.05px;left:111.60px;width:200px;text-align:center;transform:rotate(0.05deg);transform-origin:50% 0;-webkit-text-stroke:0.3px #231815;word-spacing:0.4px;">2.5 (0.10)</div>
<div class="t" style="top:426.04px;font-size:9.05px;left:174.95px;width:200px;text-align:center;transform:rotate(0.05deg);transform-origin:50% 0;-webkit-text-stroke:0.3px #231815;word-spacing:0.4px;">3.0 (0.12)</div>
<div class="t" style="top:426.04px;font-size:9.05px;left:238.30px;width:200px;text-align:center;transform:rotate(0.05deg);transform-origin:50% 0;-webkit-text-stroke:0.3px #231815;word-spacing:0.4px;">4.0 (0.16)</div>
<div class="t" style="top:426.04px;font-size:9.05px;left:301.70px;width:200px;text-align:center;transform:rotate(0.05deg);transform-origin:50% 0;-webkit-text-stroke:0.3px #231815;word-spacing:0.4px;">5.0 (0.20)</div>
<div class="t" style="top:439.36px;font-size:9.5px;font-weight:bold;left:37.00px;transform:rotate(0.05deg);transform-origin:0 0;-webkit-text-stroke:0.22px #231815;">B</div>
<div class="t" style="top:440.35px;font-size:7.5px;font-weight:bold;left:53.80px;transform:rotate(0.05deg) scaleX(0.885);transform-origin:0 0;-webkit-text-stroke:0.2px #231815;">Length mm (in.)</div>
<div class="t" style="top:440.64px;font-size:9.05px;left:48.15px;width:200px;text-align:center;transform:rotate(0.05deg);transform-origin:50% 0;-webkit-text-stroke:0.3px #231815;word-spacing:0.4px;">20.0 (0.79)</div>
<div class="t" style="top:440.64px;font-size:9.05px;left:111.60px;width:200px;text-align:center;transform:rotate(0.05deg);transform-origin:50% 0;-webkit-text-stroke:0.3px #231815;word-spacing:0.4px;">20.0 (0.79)</div>
<div class="t" style="top:440.64px;font-size:9.05px;left:174.95px;width:200px;text-align:center;transform:rotate(0.05deg);transform-origin:50% 0;-webkit-text-stroke:0.3px #231815;word-spacing:0.4px;">20.0 (0.79)</div>
<div class="t" style="top:440.64px;font-size:9.05px;left:238.30px;width:200px;text-align:center;transform:rotate(0.05deg);transform-origin:50% 0;-webkit-text-stroke:0.3px #231815;word-spacing:0.4px;">22.0 (0.87)</div>
<div class="t" style="top:440.64px;font-size:9.05px;left:301.70px;width:200px;text-align:center;transform:rotate(0.05deg);transform-origin:50% 0;-webkit-text-stroke:0.3px #231815;word-spacing:0.4px;">20.0 (0.79)</div>
<div class="t" style="top:454.06px;font-size:9.5px;font-weight:bold;left:37.00px;transform:rotate(0.05deg);transform-origin:0 0;-webkit-text-stroke:0.22px #231815;">C</div>
<div class="t" style="top:454.95px;font-size:7.5px;font-weight:bold;left:53.80px;transform:rotate(0.05deg) scaleX(0.885);transform-origin:0 0;-webkit-text-stroke:0.2px #231815;">Stem dia. mm (in.)</div>
<div class="t" style="top:455.34px;font-size:9.05px;left:48.15px;width:200px;text-align:center;transform:rotate(0.05deg);transform-origin:50% 0;-webkit-text-stroke:0.3px #231815;word-spacing:0.4px;">1.0 (0.04)</div>
<div class="t" style="top:455.34px;font-size:9.05px;left:111.60px;width:200px;text-align:center;transform:rotate(0.05deg);transform-origin:50% 0;-webkit-text-stroke:0.3px #231815;word-spacing:0.4px;">1.0 (0.04)</div>
<div class="t" style="top:455.34px;font-size:9.05px;left:174.95px;width:200px;text-align:center;transform:rotate(0.05deg);transform-origin:50% 0;-webkit-text-stroke:0.3px #231815;word-spacing:0.4px;">1.5 (0.06)</div>
<div class="t" style="top:455.34px;font-size:9.05px;left:238.30px;width:200px;text-align:center;transform:rotate(0.05deg);transform-origin:50% 0;-webkit-text-stroke:0.3px #231815;word-spacing:0.4px;">2.0 (0.08)</div>
<div class="t" style="top:455.34px;font-size:9.05px;left:301.70px;width:200px;text-align:center;transform:rotate(0.05deg);transform-origin:50% 0;-webkit-text-stroke:0.3px #231815;word-spacing:0.4px;">2.5 (0.10)</div>
<div class="t" style="top:466.81px;font-size:9.5px;font-weight:bold;left:37.00px;transform:rotate(0.05deg);transform-origin:0 0;-webkit-text-stroke:0.22px #231815;">D</div>
<div class="t" style="top:468.30px;font-size:7.5px;font-weight:bold;left:54.60px;transform:rotate(0.05deg) scaleX(0.885);transform-origin:0 0;-webkit-text-stroke:0.2px #231815;">EWL* mm (in.)</div>
<div class="t" style="top:468.19px;font-size:9.05px;left:48.15px;width:200px;text-align:center;transform:rotate(0.05deg);transform-origin:50% 0;-webkit-text-stroke:0.3px #231815;word-spacing:0.4px;">14.0 (0.55)</div>
<div class="t" style="top:468.19px;font-size:9.05px;left:111.60px;width:200px;text-align:center;transform:rotate(0.05deg);transform-origin:50% 0;-webkit-text-stroke:0.3px #231815;word-spacing:0.4px;">15.5 (0.62)</div>
<div class="t" style="top:468.19px;font-size:9.05px;left:174.95px;width:200px;text-align:center;transform:rotate(0.05deg);transform-origin:50% 0;-webkit-text-stroke:0.3px #231815;word-spacing:0.4px;">17.0 (0.67)</div>
<div class="t" style="top:468.19px;font-size:9.05px;left:238.30px;width:200px;text-align:center;transform:rotate(0.05deg);transform-origin:50% 0;-webkit-text-stroke:0.3px #231815;word-spacing:0.4px;">22.0 (0.87)</div>
<div class="t" style="top:468.19px;font-size:9.05px;left:301.70px;width:200px;text-align:center;transform:rotate(0.05deg);transform-origin:50% 0;-webkit-text-stroke:0.3px #231815;word-spacing:0.4px;">20.0 (0.79)</div>
<div class="t" style="top:481.75px;font-size:7.5px;font-weight:bold;left:53.80px;transform:rotate(0.05deg) scaleX(0.885);transform-origin:0 0;-webkit-text-stroke:0.2px #231815;">Mass grammes</div>
<div class="t" style="top:482.04px;font-size:9.05px;left:48.15px;width:200px;text-align:center;transform:rotate(0.05deg);transform-origin:50% 0;-webkit-text-stroke:0.3px #231815;word-spacing:0.4px;">0.48</div>
<div class="t" style="top:482.04px;font-size:9.05px;left:111.60px;width:200px;text-align:center;transform:rotate(0.05deg);transform-origin:50% 0;-webkit-text-stroke:0.3px #231815;word-spacing:0.4px;">0.50</div>
<div class="t" style="top:482.04px;font-size:9.05px;left:174.95px;width:200px;text-align:center;transform:rotate(0.05deg);transform-origin:50% 0;-webkit-text-stroke:0.3px #231815;word-spacing:0.4px;">0.77</div>
<div class="t" style="top:482.04px;font-size:9.05px;left:238.30px;width:200px;text-align:center;transform:rotate(0.05deg);transform-origin:50% 0;-webkit-text-stroke:0.3px #231815;word-spacing:0.4px;">1.24</div>
<div class="t" style="top:482.04px;font-size:9.05px;left:301.70px;width:200px;text-align:center;transform:rotate(0.05deg);transform-origin:50% 0;-webkit-text-stroke:0.3px #231815;word-spacing:0.4px;">1.98</div>
<div class="t" style="top:515.62px;font-size:9.9px;font-weight:bold;left:37.60px;transform:rotate(0.05deg) scaleX(0.965);transform-origin:0 0;-webkit-text-stroke:0.22px #231815;">20 mm range</div>
<div class="t" style="top:629.72px;font-size:9.9px;font-weight:bold;left:38.00px;transform:rotate(0.05deg) scaleX(0.965);transform-origin:0 0;-webkit-text-stroke:0.22px #231815;">Ball material</div>
<div class="t" style="top:629.72px;font-size:9.9px;font-weight:bold;left:119.50px;transform:rotate(0.05deg) scaleX(0.965);transform-origin:0 0;-webkit-text-stroke:0.22px #231815;">Part number</div>
<div class="t" style="top:644.42px;font-size:9.9px;font-weight:bold;left:38.00px;transform:rotate(0.05deg) scaleX(0.965);transform-origin:0 0;-webkit-text-stroke:0.22px #231815;">Ruby</div>
<div class="t" style="top:658.42px;font-size:9.9px;font-weight:bold;left:38.00px;transform:rotate(0.05deg) scaleX(0.965);transform-origin:0 0;-webkit-text-stroke:0.22px #231815;">Silicon nitride</div>
<div class="t" style="top:673.22px;font-size:9.9px;font-weight:bold;left:38.00px;transform:rotate(0.05deg) scaleX(0.965);transform-origin:0 0;-webkit-text-stroke:0.22px #231815;">Zirconia</div>
<div class="t" style="top:644.44px;font-size:9.52px;font-weight:bold;left:47.62px;width:200px;text-align:center;transform:rotate(0.05deg);transform-origin:50% 0;-webkit-text-stroke:0.22px #231815;">A-5000-8663</div>
<div class="t" style="top:658.54px;font-size:9.52px;font-weight:bold;left:47.62px;width:200px;text-align:center;transform:rotate(0.05deg);transform-origin:50% 0;-webkit-text-stroke:0.22px #231815;">A-5004-2022</div>
<div class="t" style="top:673.04px;font-size:9.52px;font-weight:bold;left:47.62px;width:200px;text-align:center;transform:rotate(0.05deg);transform-origin:50% 0;-webkit-text-stroke:0.22px #231815;">A-5004-2927</div>
<div class="t" style="top:644.44px;font-size:9.52px;font-weight:bold;left:110.93px;width:200px;text-align:center;transform:rotate(0.05deg);transform-origin:50% 0;-webkit-text-stroke:0.22px #231815;">A-5003-0035</div>
<div class="t" style="top:658.54px;font-size:9.52px;font-weight:bold;left:110.93px;width:200px;text-align:center;transform:rotate(0.05deg);transform-origin:50% 0;-webkit-text-stroke:0.22px #231815;">A-5004-1931</div>
<div class="t" style="top:673.04px;font-size:9.52px;font-weight:bold;left:110.93px;width:200px;text-align:center;transform:rotate(0.05deg);transform-origin:50% 0;-webkit-text-stroke:0.22px #231815;">A-5004-1711</div>
<div class="t" style="top:644.44px;font-size:9.52px;font-weight:bold;left:174.27px;width:200px;text-align:center;transform:rotate(0.05deg);transform-origin:50% 0;-webkit-text-stroke:0.22px #231815;">A-5003-0036</div>
<div class="t" style="top:658.54px;font-size:9.52px;font-weight:bold;left:174.27px;width:200px;text-align:center;transform:rotate(0.05deg);transform-origin:50% 0;-webkit-text-stroke:0.22px #231815;">A-5003-7573</div>
<div class="t" style="top:673.04px;font-size:9.52px;font-weight:bold;left:174.27px;width:200px;text-align:center;transform:rotate(0.05deg);transform-origin:50% 0;-webkit-text-stroke:0.22px #231815;">A-5004-1058</div>
<div class="t" style="top:644.44px;font-size:9.52px;font-weight:bold;left:237.60px;width:200px;text-align:center;transform:rotate(0.05deg);transform-origin:50% 0;-webkit-text-stroke:0.22px #231815;">A-5003-0038</div>
<div class="t" style="top:658.54px;font-size:9.52px;font-weight:bold;left:237.60px;width:200px;text-align:center;transform:rotate(0.05deg);transform-origin:50% 0;-webkit-text-stroke:0.22px #231815;">A-5004-1932</div>
<div class="t" style="top:673.04px;font-size:9.52px;font-weight:bold;left:237.60px;width:200px;text-align:center;transform:rotate(0.05deg);transform-origin:50% 0;-webkit-text-stroke:0.22px #231815;">A-5004-2928</div>
<div class="t" style="top:644.44px;font-size:9.52px;font-weight:bold;left:300.90px;width:200px;text-align:center;transform:rotate(0.05deg);transform-origin:50% 0;-webkit-text-stroke:0.22px #231815;">A-5003-0040</div>
<div class="t" style="top:658.54px;font-size:9.52px;font-weight:bold;left:300.90px;width:200px;text-align:center;transform:rotate(0.05deg);transform-origin:50% 0;-webkit-text-stroke:0.22px #231815;">A-5004-1933</div>
<div class="t" style="top:673.04px;font-size:9.52px;font-weight:bold;left:300.90px;width:200px;text-align:center;transform:rotate(0.05deg);transform-origin:50% 0;-webkit-text-stroke:0.22px #231815;">A-5004-0264</div>
<div class="t" style="top:644.44px;font-size:9.52px;font-weight:bold;left:364.23px;width:200px;text-align:center;transform:rotate(0.05deg);transform-origin:50% 0;-webkit-text-stroke:0.22px #231815;">A-5003-0043</div>
<div class="t" style="top:658.54px;font-size:9.52px;font-weight:bold;left:364.23px;width:200px;text-align:center;transform:rotate(0.05deg);transform-origin:50% 0;-webkit-text-stroke:0.22px #231815;">A-5004-1944</div>
<div class="t" style="top:673.04px;font-size:9.52px;font-weight:bold;left:364.23px;width:200px;text-align:center;transform:rotate(0.05deg);transform-origin:50% 0;-webkit-text-stroke:0.22px #231815;">A-5004-2929</div>
<div class="t" style="top:644.44px;font-size:9.52px;font-weight:bold;left:427.55px;width:200px;text-align:center;transform:rotate(0.05deg);transform-origin:50% 0;-webkit-text-stroke:0.22px #231815;">A-5003-0047</div>
<div class="t" style="top:658.54px;font-size:9.52px;font-weight:bold;left:427.55px;width:200px;text-align:center;transform:rotate(0.05deg);transform-origin:50% 0;-webkit-text-stroke:0.22px #231815;">A-5004-1945</div>
<div class="t" style="top:673.04px;font-size:9.52px;font-weight:bold;left:427.55px;width:200px;text-align:center;transform:rotate(0.05deg);transform-origin:50% 0;-webkit-text-stroke:0.22px #231815;">A-5004-2930</div>
<div class="t" style="top:686.66px;font-size:9.5px;font-weight:bold;left:37.00px;transform:rotate(0.05deg);transform-origin:0 0;-webkit-text-stroke:0.22px #231815;">A</div>
<div class="t" style="top:687.65px;font-size:7.5px;font-weight:bold;left:53.80px;transform:rotate(0.05deg) scaleX(0.885);transform-origin:0 0;-webkit-text-stroke:0.2px #231815;">Ball dia. mm (in.)</div>
<div class="t" style="top:687.94px;font-size:9.05px;left:47.47px;width:200px;text-align:center;transform:rotate(0.05deg);transform-origin:50% 0;-webkit-text-stroke:0.3px #231815;word-spacing:0.4px;">1.0 (0.04)</div>
<div class="t" style="top:687.94px;font-size:9.05px;left:110.78px;width:200px;text-align:center;transform:rotate(0.05deg);transform-origin:50% 0;-webkit-text-stroke:0.3px #231815;word-spacing:0.4px;">1.5 (0.06)</div>
<div class="t" style="top:687.94px;font-size:9.05px;left:174.12px;width:200px;text-align:center;transform:rotate(0.05deg);transform-origin:50% 0;-webkit-text-stroke:0.3px #231815;word-spacing:0.4px;">2.0 (0.08)</div>
<div class="t" style="top:687.94px;font-size:9.05px;left:237.45px;width:200px;text-align:center;transform:rotate(0.05deg);transform-origin:50% 0;-webkit-text-stroke:0.3px #231815;word-spacing:0.4px;">2.5 (0.10)</div>
<div class="t" style="top:687.94px;font-size:9.05px;left:300.75px;width:200px;text-align:center;transform:rotate(0.05deg);transform-origin:50% 0;-webkit-text-stroke:0.3px #231815;word-spacing:0.4px;">3.0 (0.12)</div>
<div class="t" style="top:687.94px;font-size:9.05px;left:364.08px;width:200px;text-align:center;transform:rotate(0.05deg);transform-origin:50% 0;-webkit-text-stroke:0.3px #231815;word-spacing:0.4px;">4.0 (0.16)</div>
<div class="t" style="top:687.94px;font-size:9.05px;left:427.40px;width:200px;text-align:center;transform:rotate(0.05deg);transform-origin:50% 0;-webkit-text-stroke:0.3px #231815;word-spacing:0.4px;">5.0 (0.20)</div>
<div class="t" style="top:700.66px;font-size:9.5px;font-weight:bold;left:37.00px;transform:rotate(0.05deg);transform-origin:0 0;-webkit-text-stroke:0.22px #231815;">B</div>
<div class="t" style="top:701.65px;font-size:7.5px;font-weight:bold;left:53.80px;transform:rotate(0.05deg) scaleX(0.885);transform-origin:0 0;-webkit-text-stroke:0.2px #231815;">Length mm (in.)</div>
<div class="t" style="top:701.94px;font-size:9.05px;left:47.47px;width:200px;text-align:center;transform:rotate(0.05deg);transform-origin:50% 0;-webkit-text-stroke:0.3px #231815;word-spacing:0.4px;">27.5 (1.08)</div>
<div class="t" style="top:701.94px;font-size:9.05px;left:110.78px;width:200px;text-align:center;transform:rotate(0.05deg);transform-origin:50% 0;-webkit-text-stroke:0.3px #231815;word-spacing:0.4px;">30.0 (1.19)</div>
<div class="t" style="top:701.94px;font-size:9.05px;left:174.12px;width:200px;text-align:center;transform:rotate(0.05deg);transform-origin:50% 0;-webkit-text-stroke:0.3px #231815;word-spacing:0.4px;">30.0 (1.19)</div>
<div class="t" style="top:701.94px;font-size:9.05px;left:237.45px;width:200px;text-align:center;transform:rotate(0.05deg);transform-origin:50% 0;-webkit-text-stroke:0.3px #231815;word-spacing:0.4px;">30.0 (1.19)</div>
<div class="t" style="top:701.94px;font-size:9.05px;left:300.75px;width:200px;text-align:center;transform:rotate(0.05deg);transform-origin:50% 0;-webkit-text-stroke:0.3px #231815;word-spacing:0.4px;">30.0 (1.19)</div>
<div class="t" style="top:701.94px;font-size:9.05px;left:364.08px;width:200px;text-align:center;transform:rotate(0.05deg);transform-origin:50% 0;-webkit-text-stroke:0.3px #231815;word-spacing:0.4px;">30.0 (1.19)</div>
<div class="t" style="top:701.94px;font-size:9.05px;left:427.40px;width:200px;text-align:center;transform:rotate(0.05deg);transform-origin:50% 0;-webkit-text-stroke:0.3px #231815;word-spacing:0.4px;">30.0 (1.19)</div>
<div class="t" style="top:714.66px;font-size:9.5px;font-weight:bold;left:37.00px;transform:rotate(0.05deg);transform-origin:0 0;-webkit-text-stroke:0.22px #231815;">C</div>
<div class="t" style="top:715.55px;font-size:7.5px;font-weight:bold;left:53.80px;transform:rotate(0.05deg) scaleX(0.885);transform-origin:0 0;-webkit-text-stroke:0.2px #231815;">Stem dia. mm (in.)</div>
<div class="t" style="top:715.94px;font-size:9.05px;left:47.47px;width:200px;text-align:center;transform:rotate(0.05deg);transform-origin:50% 0;-webkit-text-stroke:0.3px #231815;word-spacing:0.4px;">0.7 (0.028)</div>
<div class="t" style="top:715.94px;font-size:9.05px;left:110.78px;width:200px;text-align:center;transform:rotate(0.05deg);transform-origin:50% 0;-webkit-text-stroke:0.3px #231815;word-spacing:0.4px;">1.0 (0.04)</div>
<div class="t" style="top:715.94px;font-size:9.05px;left:174.12px;width:200px;text-align:center;transform:rotate(0.05deg);transform-origin:50% 0;-webkit-text-stroke:0.3px #231815;word-spacing:0.4px;">1.5 (0.06)</div>
<div class="t" style="top:715.94px;font-size:9.05px;left:237.45px;width:200px;text-align:center;transform:rotate(0.05deg);transform-origin:50% 0;-webkit-text-stroke:0.3px #231815;word-spacing:0.4px;">2.0 (0.08)</div>
<div class="t" style="top:715.94px;font-size:9.05px;left:300.75px;width:200px;text-align:center;transform:rotate(0.05deg);transform-origin:50% 0;-webkit-text-stroke:0.3px #231815;word-spacing:0.4px;">2.0 (0.08)</div>
<div class="t" style="top:715.94px;font-size:9.05px;left:364.08px;width:200px;text-align:center;transform:rotate(0.05deg);transform-origin:50% 0;-webkit-text-stroke:0.3px #231815;word-spacing:0.4px;">2.0 (0.08)</div>
<div class="t" style="top:715.94px;font-size:9.05px;left:427.40px;width:200px;text-align:center;transform:rotate(0.05deg);transform-origin:50% 0;-webkit-text-stroke:0.3px #231815;word-spacing:0.4px;">2.5 (0.10)</div>
<div class="t" style="top:729.26px;font-size:9.5px;font-weight:bold;left:37.00px;transform:rotate(0.05deg);transform-origin:0 0;-webkit-text-stroke:0.22px #231815;">D</div>
<div class="t" style="top:730.75px;font-size:7.5px;font-weight:bold;left:54.60px;transform:rotate(0.05deg) scaleX(0.885);transform-origin:0 0;-webkit-text-stroke:0.2px #231815;">EWL* mm (in.)</div>
<div class="t" style="top:730.64px;font-size:9.05px;left:47.47px;width:200px;text-align:center;transform:rotate(0.05deg);transform-origin:50% 0;-webkit-text-stroke:0.3px #231815;word-spacing:0.4px;">20.5 (0.81)</div>
<div class="t" style="top:730.64px;font-size:9.05px;left:110.78px;width:200px;text-align:center;transform:rotate(0.05deg);transform-origin:50% 0;-webkit-text-stroke:0.3px #231815;word-spacing:0.4px;">22.5 (0.89)</div>
<div class="t" style="top:730.64px;font-size:9.05px;left:174.12px;width:200px;text-align:center;transform:rotate(0.05deg);transform-origin:50% 0;-webkit-text-stroke:0.3px #231815;word-spacing:0.4px;">22.5 (0.89)</div>
<div class="t" style="top:730.64px;font-size:9.05px;left:237.45px;width:200px;text-align:center;transform:rotate(0.05deg);transform-origin:50% 0;-webkit-text-stroke:0.3px #231815;word-spacing:0.4px;">22.5 (0.89)</div>
<div class="t" style="top:730.64px;font-size:9.05px;left:300.75px;width:200px;text-align:center;transform:rotate(0.05deg);transform-origin:50% 0;-webkit-text-stroke:0.3px #231815;word-spacing:0.4px;">27.0 (1.06)</div>
<div class="t" style="top:730.64px;font-size:9.05px;left:364.08px;width:200px;text-align:center;transform:rotate(0.05deg);transform-origin:50% 0;-webkit-text-stroke:0.3px #231815;word-spacing:0.4px;">30.0 (1.19)</div>
<div class="t" style="top:730.64px;font-size:9.05px;left:427.40px;width:200px;text-align:center;transform:rotate(0.05deg);transform-origin:50% 0;-webkit-text-stroke:0.3px #231815;word-spacing:0.4px;">30.0 (1.19)</div>
<div class="t" style="top:745.35px;font-size:7.5px;font-weight:bold;left:53.80px;transform:rotate(0.05deg) scaleX(0.885);transform-origin:0 0;-webkit-text-stroke:0.2px #231815;">Mass grammes</div>
<div class="t" style="top:744.64px;font-size:9.05px;left:47.47px;width:200px;text-align:center;transform:rotate(0.05deg);transform-origin:50% 0;-webkit-text-stroke:0.3px #231815;word-spacing:0.4px;">0.40</div>
<div class="t" style="top:744.64px;font-size:9.05px;left:110.78px;width:200px;text-align:center;transform:rotate(0.05deg);transform-origin:50% 0;-webkit-text-stroke:0.3px #231815;word-spacing:0.4px;">0.58</div>
<div class="t" style="top:744.64px;font-size:9.05px;left:174.12px;width:200px;text-align:center;transform:rotate(0.05deg);transform-origin:50% 0;-webkit-text-stroke:0.3px #231815;word-spacing:0.4px;">0.99</div>
<div class="t" style="top:744.64px;font-size:9.05px;left:237.45px;width:200px;text-align:center;transform:rotate(0.05deg);transform-origin:50% 0;-webkit-text-stroke:0.3px #231815;word-spacing:0.4px;">1.48</div>
<div class="t" style="top:744.64px;font-size:9.05px;left:300.75px;width:200px;text-align:center;transform:rotate(0.05deg);transform-origin:50% 0;-webkit-text-stroke:0.3px #231815;word-spacing:0.4px;">1.49</div>
<div class="t" style="top:744.64px;font-size:9.05px;left:364.08px;width:200px;text-align:center;transform:rotate(0.05deg);transform-origin:50% 0;-webkit-text-stroke:0.3px #231815;word-spacing:0.4px;">1.57</div>
<div class="t" style="top:744.64px;font-size:9.05px;left:427.40px;width:200px;text-align:center;transform:rotate(0.05deg);transform-origin:50% 0;-webkit-text-stroke:0.3px #231815;word-spacing:0.4px;">2.57</div>
<div class="t" style="top:794.82px;font-size:9.9px;font-weight:bold;left:37.60px;transform:rotate(0.05deg) scaleX(0.965);transform-origin:0 0;-webkit-text-stroke:0.22px #231815;">30 mm range</div>
<div class="t" style="top:100.11px;font-size:14.4px;font-weight:bold;left:34.70px;transform:rotate(0.05deg) scaleX(0.983);transform-origin:0 0;">Ruby ball styli (tungsten carbide stems) – continued</div>
<div class="t" style="top:894.00px;font-size:8.15px;left:559.20px;transform:rotate(0.05deg);transform-origin:0 0;-webkit-text-stroke:0.3px #231815;">*Effective working length</div>
<div class="t" style="top:31.88px;font-size:23.3px;font-weight:bold;letter-spacing:0.7px;left:491.90px;transform:rotate(0.05deg) scaleX(1.045);transform-origin:0 0;-webkit-text-stroke:1.5px #231815;">RENISHAW</div>
<div class="t" style="top:56.28px;font-size:11.6px;left:491.90px;transform:rotate(0.05deg) scaleX(1.1);transform-origin:0 0;-webkit-text-stroke:0.65px #231815;">apply innovation</div>
<div class="t" style="top:57.32px;font-size:7.3px;font-weight:bold;left:584.00px;transform:rotate(0.05deg);transform-origin:0 0;-webkit-text-stroke:0.25px #231815;">™</div>
<div class="t" style="top:49.14px;font-size:4.8px;font-weight:bold;left:626.70px;transform:rotate(0.05deg);transform-origin:0 0;">®</div>
<div class="t" style="top:221.03px;font-size:12.6px;font-weight:bold;letter-spacing:0.45px;left:657.90px;transform:rotate(0.05deg);transform-origin:0 0;-webkit-text-stroke:0.3px #231815;">3.3</div>
<div class="t rot" style="left:661.8px;top:208.8px;">M2 threaded</div>
<div class="t rot" style="left:673.1px;top:208.8px;">stylus range</div></div>
</body></html>
